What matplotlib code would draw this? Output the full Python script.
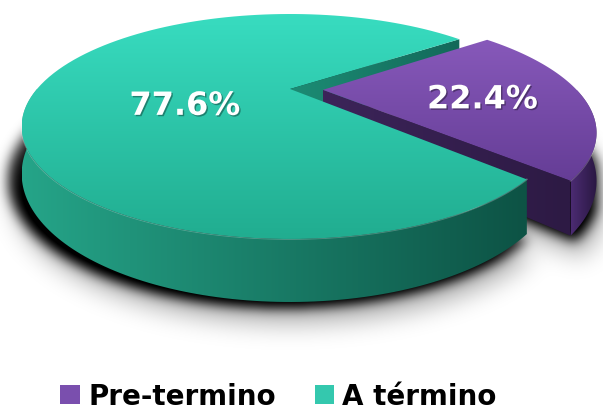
import numpy as np
import matplotlib.pyplot as plt
from matplotlib.patches import Polygon, Patch
from matplotlib.path import Path
import matplotlib.patheffects as pe
from matplotlib.colors import to_rgb

# data
labels = ['Pre-termino', 'A término']
values = [22.4, 77.6]
explode = [0.13, 0.0]
start_angle = -44.0

# label placement (fraction of radius, pixel nudge down)
label_r = [0.62, 0.42]
label_dy = [6, 20]

# styling
top_colors = [('#8759ba', '#653d96'), ('#38dcc0', '#21ad90')]    # far -> near
side_colors = [('#4b2b72', '#2a1842'), ('#25a488', '#0d5345')]   # left -> right
face_colors = [('#3c2459', '#2d1a44'), ('#1c8c74', '#13695a')]
legend_colors = ['#7a4fae', '#34c8ae']

W, H = 603, 414
cx, cy = 290, 90      # projected pie centre
rx, ry = 253, 100
k = 1 / 3             # perspective strength
h = 42                # thickness


def proj(X, Y, Z=0.0):
    w = 1 + k * Y
    return cx + rx * X / w, cy - ry * Y / w + h * Z / w


def arc(t0, t1, ox, oy, Z=0.0, n=120):
    t = np.radians(np.linspace(t0, t1, n))
    x, y = proj(np.cos(t) + ox, np.sin(t) + oy, Z)
    return np.column_stack([x, y])


def grad_fill(ax, verts, c0, c1, vertical=True, zorder=1):
    verts = np.asarray(verts)
    x0, y0 = verts.min(axis=0)
    x1, y1 = verts.max(axis=0)
    f = np.linspace(0, 1, 64)[:, None]
    a, b = np.array(to_rgb(c0)), np.array(to_rgb(c1))
    img = a * (1 - f) + b * f
    img = img[:, None, :] if vertical else img[None, :, :]
    im = ax.imshow(img, extent=(x0, x1, y1, y0), origin='upper',
                   aspect='auto', interpolation='bilinear', zorder=zorder)
    poly = Polygon(verts, closed=True, transform=ax.transData)
    im.set_clip_path(poly)
    return im


def blur(a, s):
    r = int(3 * s)
    x = np.arange(-r, r + 1)
    g = np.exp(-x ** 2 / (2 * s * s))
    g /= g.sum()
    a = np.apply_along_axis(lambda v: np.convolve(v, g, mode='same'), 1, a)
    a = np.apply_along_axis(lambda v: np.convolve(v, g, mode='same'), 0, a)
    return a


fig = plt.figure(figsize=(W / 100, H / 100), dpi=100)
ax = fig.add_axes([0, 0, 1, 1])
ax.set_xlim(0, W)
ax.set_ylim(H, 0)
ax.axis('off')

# slice geometry from the values
spans = np.array(values) / sum(values) * 360
starts = start_angle + np.concatenate([[0], np.cumsum(spans)[:-1]])
slices = []
for i in range(len(values)):
    t0, t1 = starts[i], starts[i] + spans[i]
    mid = np.radians((t0 + t1) / 2)
    slices.append((t0, t1, explode[i] * np.cos(mid), explode[i] * np.sin(mid)))

# shadow under the pie
gx, gy = np.meshgrid(np.arange(W) + 0.5, np.arange(H) + 0.5)
pts = np.column_stack([gx.ravel(), gy.ravel()])
mask = np.zeros(W * H)
for t0, t1, ox, oy in slices:
    c = np.array(proj(ox, oy, 1.0))
    verts = np.vstack([c, arc(t0, t1, ox * 1.05, oy, 1.0)])
    verts = (verts - [cx, cy]) * [1.03, 1.0] + [cx, cy]
    mask = np.maximum(mask, Path(verts).contains_points(pts))
mask = mask.reshape(H, W).astype(float)
dark = blur(np.roll(np.roll(mask, 6, axis=0), -6, axis=1), 6)
soft = blur(np.roll(mask, 22, axis=0), 12)
alpha = np.clip(0.8 * dark + 0.3 * soft, 0, 1)
shadow = np.zeros((H, W, 4))
shadow[..., 3] = alpha
ax.imshow(shadow, extent=(0, W, H, 0), origin='upper', aspect='auto', zorder=0)

purple, teal = slices[0], slices[1]


def draw_face(s, cols, z):
    t0, _, ox, oy = s
    a = np.radians(t0)
    c_top = proj(ox, oy, 0)
    e_top = proj(np.cos(a) + ox, np.sin(a) + oy, 0)
    e_bot = proj(np.cos(a) + ox, np.sin(a) + oy, 1)
    c_bot = proj(ox, oy, 1)
    grad_fill(ax, [c_top, e_top, e_bot, c_bot], cols[0], cols[1], vertical=False, zorder=z)


def draw_side(s, cols, z, lo, hi):
    t0, t1, ox, oy = s
    a0, a1 = max(t0, lo), min(t1, hi)
    top = arc(a0, a1, ox, oy, 0)
    bot = arc(a0, a1, ox, oy, 1)
    grad_fill(ax, np.vstack([top, bot[::-1]]), cols[0], cols[1], vertical=False, zorder=z)
    ax.plot(top[:, 0], top[:, 1], color='white', alpha=0.25, lw=1.2, zorder=z + 0.1)


def draw_top(s, cols, z):
    t0, t1, ox, oy = s
    verts = np.vstack([proj(ox, oy, 0), arc(t0, t1, ox, oy, 0)])
    grad_fill(ax, verts, cols[0], cols[1], vertical=True, zorder=z)


# back to front
draw_face(teal, face_colors[1], 2)
draw_face(purple, face_colors[0], 3)
draw_side(purple, side_colors[0], 4, -90, 0)
draw_top(purple, top_colors[0], 5)
draw_side(teal, side_colors[1], 6, 180, 360)
draw_top(teal, top_colors[1], 7)

# percentage labels
for i, (t0, t1, ox, oy) in enumerate(slices):
    mid = np.radians((t0 + t1) / 2)
    x, y = proj(label_r[i] * np.cos(mid) + ox, label_r[i] * np.sin(mid) + oy, 0)
    ax.text(x, y + label_dy[i], f'{values[i]:.1f}%', color='white', fontsize=23,
            fontweight='bold', ha='center', va='center', zorder=10,
            path_effects=[pe.withSimplePatchShadow(offset=(1, -1), shadow_rgbFace='k', alpha=0.35)])

handles = [Patch(facecolor=c, edgecolor='none') for c in legend_colors]
fig.legend(handles, labels, loc='center', bbox_to_anchor=(0.462, 0.04), ncol=2,
           frameon=False, prop=dict(weight='bold', size=20), handlelength=0.7,
           handleheight=0.7, handletextpad=0.3, columnspacing=1.4)

fig.savefig('out.png', dpi=100)
